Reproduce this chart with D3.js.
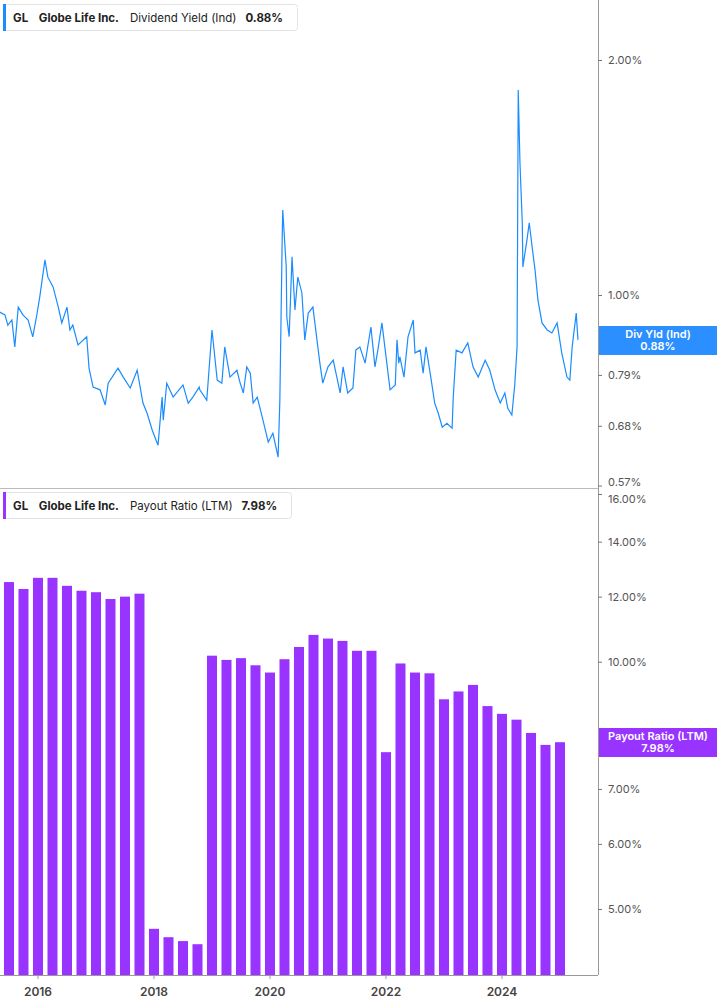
<!DOCTYPE html>
<html><head><meta charset="utf-8">
<script src="https://cdn.jsdelivr.net/npm/d3@7"></script>
<style>body{margin:0;background:#fff;font-family:Inter,"Noto Sans",sans-serif}</style>
</head><body><svg id="c" width="717" height="1005"></svg>
<script>
// Dividend yield (%) — time as decimal year
const yieldT=[2015.34,2015.43,2015.48,2015.55,2015.60,2015.66,2015.74,2015.83,2015.91,2015.98,2016.03,2016.12,2016.17,2016.26,2016.35,2016.41,2016.50,2016.55,2016.60,2016.69,2016.84,2016.88,2016.95,2017.07,2017.16,2017.21,2017.38,2017.47,2017.59,2017.71,2017.81,2017.88,2017.97,2018.07,2018.14,2018.16,2018.22,2018.33,2018.50,2018.59,2018.67,2018.78,
2018.79,2018.91,2019.00,2019.09,2019.17,2019.22,2019.31,2019.43,2019.48,2019.54,2019.60,2019.66,2019.71,2019.78,2019.88,2019.97,2020.05,2020.14,2020.17,2020.21,2020.22,2020.28,2020.29,2020.33,2020.38,2020.43,2020.48,2020.55,2020.60,2020.66,2020.74,2020.81,2020.86,2020.91,2021.00,2021.09,2021.21,2021.26,2021.34,2021.43,2021.48,2021.55,2021.64,2021.74,2021.81,2021.86,2021.93,2021.98,2022.07,2022.16,2022.19,2022.22,
2022.24,2022.31,2022.38,2022.47,2022.50,2022.59,2022.64,2022.69,2022.78,2022.84,2022.90,2022.97,2023.05,2023.14,2023.16,2023.21,2023.31,2023.41,2023.50,2023.59,2023.71,2023.79,2023.88,2023.97,2024.05,2024.10,2024.17,2024.22,2024.26,2024.28,2024.31,2024.35,2024.36,2024.43,2024.47,2024.52,2024.57,2024.62,2024.69,2024.78,2024.86,2024.95,2025.03,2025.12,2025.17,2025.21,2025.28,2025.31];
const yieldV=[0.951,0.943,0.915,0.929,0.858,0.965,0.943,0.929,0.884,0.943,0.994,1.109,1.054,1.024,0.965,0.921,0.965,0.902,0.915,0.863,0.884,0.806,0.762,0.756,0.723,0.771,0.806,0.785,0.760,0.801,0.727,0.706,0.671,0.642,0.740,0.691,0.771,0.740,0.767,0.727,0.740,0.762,
0.756,0.733,0.902,0.778,0.771,0.858,0.785,0.801,0.774,0.749,0.809,0.794,0.727,0.740,0.691,0.648,0.665,0.620,0.733,1.176,1.285,1.086,0.937,0.884,1.119,0.957,1.054,1.006,0.876,0.948,0.965,0.876,0.818,0.771,0.809,0.825,0.749,0.809,0.749,0.760,0.850,0.858,0.818,0.910,0.809,0.850,0.921,0.858,0.756,0.767,0.876,0.818,
0.833,0.785,0.884,0.929,0.843,0.850,0.794,0.858,0.778,0.727,0.706,0.677,0.685,0.675,0.740,0.850,0.843,0.868,0.809,0.785,0.825,0.801,0.756,0.727,0.749,0.716,0.702,0.767,0.858,1.831,1.476,1.237,1.086,1.176,1.237,1.152,1.076,0.985,0.921,0.902,0.894,0.921,0.843,0.785,0.778,0.858,0.948,0.876];
// Payout ratio (LTM, %) — quarterly
const payoutT=[];for(let y=2015.5,i=0;i<39;i++)payoutT.push(y+i*0.25);
const payoutV=[12.5,12.26,12.65,12.65,12.37,12.2,12.15,11.92,12.0,12.1,4.73,4.62,4.57,4.53,10.17,10.05,10.1,9.9,9.7,10.07,10.42,10.78,10.67,10.6,10.31,10.31,7.76,9.95,9.7,9.68,9.0,9.2,9.37,8.83,8.64,8.5,8.19,7.92,7.98];
const yTicksTop=[2.00,1.00,0.79,0.68,0.57];
const yTicksBot=[16,14,12,10,7,6,5];
const xTicks=[2016,2018,2020,2022,2024];

const svg=d3.select("#c");
const W=598;
const x=d3.scaleLinear().domain([2015.345,2015.345+W/58]).range([0,W]);
const yT=d3.scaleLog().domain([1,2]).range([295,60]);
const yB=d3.scaleLog().domain([5,16]).range([909,494]);
const BLUE="#1a8cff",PURPLE="#9933ff";

svg.append("path").datum(yieldT.map((t,i)=>[t,yieldV[i]]))
 .attr("d",d3.line().x(d=>x(d[0])).y(d=>yT(d[1])))
 .attr("fill","none").attr("stroke",BLUE).attr("stroke-width",1.2);

const base=975;
svg.selectAll("rect.b").data(payoutT).enter().append("rect")
 .attr("x",(d)=>x(d)-5).attr("width",10)
 .attr("y",(d,i)=>yB(payoutV[i])).attr("height",(d,i)=>base-yB(payoutV[i]))
 .attr("fill",PURPLE);

svg.append("line").attr("x1",W+0.5).attr("x2",W+0.5).attr("y1",0).attr("y2",base).attr("stroke","#999");
svg.append("line").attr("x1",0).attr("x2",W).attr("y1",488.5).attr("y2",488.5).attr("stroke","#bbb");
svg.append("line").attr("x1",0).attr("x2",W).attr("y1",base+0.5).attr("y2",base+0.5).attr("stroke","#999");

function yaxis(scale,ticks,fmt,shift){
 const g=svg.append("g").attr("transform",`translate(${W},0)`)
  .call(d3.axisRight(scale).tickValues(ticks).tickSize(4).tickFormat(fmt));
 g.select(".domain").remove();
 g.selectAll("line").attr("stroke","#777");
 g.selectAll("text").attr("x",10).attr("fill","#555").style("font-size","11px").style("font-family","Inter,sans-serif")
  .attr("dy",(d,i)=>shift(d));
}
yaxis(yT,yTicksTop,d=>d.toFixed(2)+"%",d=>d===0.57?"-0.05em":"0.32em");
yaxis(yB,yTicksBot,d=>d.toFixed(2)+"%",d=>d===16?"0.75em":"0.32em");

svg.selectAll("text.xt").data(xTicks).enter().append("text")
 .attr("x",d=>x(d)).attr("y",996).attr("text-anchor","middle")
 .attr("fill","#444").style("font-size","12px").style("font-weight","600").text(d=>d);
svg.selectAll("line.xt").data(xTicks).enter().append("line")
 .attr("x1",d=>x(d)).attr("x2",d=>x(d)).attr("y1",base).attr("y2",base+4).attr("stroke","#999");

function vlabel(y0,col,l1,l2){
 svg.append("rect").attr("x",W+1).attr("y",y0).attr("width",717-W-1).attr("height",29).attr("fill",col);
 svg.append("text").attr("x",658).attr("y",y0+12).attr("text-anchor","middle").attr("fill","#fff").style("font-size","11px").style("font-weight","600").text(l1);
 svg.append("text").attr("x",658).attr("y",y0+24).attr("text-anchor","middle").attr("fill","#fff").style("font-size","11px").style("font-weight","600").text(l2);
}
vlabel(326,"#2b8fff","Div Yld (Ind)","0.88%");
vlabel(728,PURPLE,"Payout Ratio (LTM)","7.98%");

function legend(y0,w,col,metric,val){
 const g=svg.append("g");
 g.append("rect").attr("x",3.5).attr("y",y0+0.5).attr("width",w).attr("height",26).attr("rx",3).attr("fill","#fff").attr("stroke","#e3e3e3");
 g.append("rect").attr("x",3).attr("y",y0).attr("width",3).attr("height",27).attr("fill",col);
 const t=g.append("text").attr("x",13).attr("y",y0+18).attr("fill","#222").style("font-size","11.5px");
 t.append("tspan").style("font-weight","700").text("GL");
 t.append("tspan").attr("dx",11).style("font-weight","700").text("Globe Life Inc.");
 t.append("tspan").attr("dx",11).text(metric);
 t.append("tspan").attr("dx",9).style("font-weight","700").text(val);
}
legend(4,294,BLUE,"Dividend Yield (Ind)","0.88%");
legend(492,288,PURPLE,"Payout Ratio (LTM)","7.98%");
</script></body></html>
